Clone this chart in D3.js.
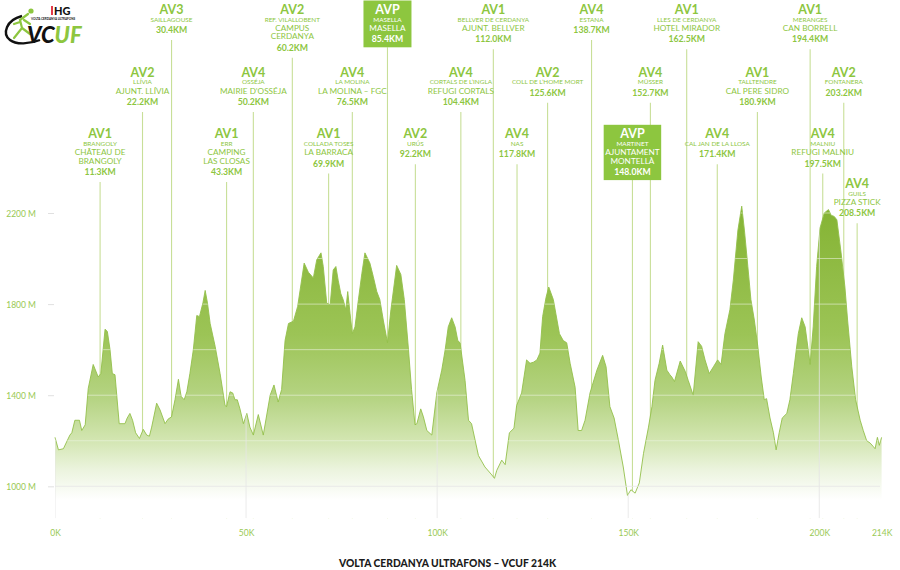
<!DOCTYPE html>
<html><head><meta charset="utf-8">
<script src="https://cdn.jsdelivr.net/npm/d3@7"></script>
<style>body{margin:0;background:#fff}svg{display:block}text{font-family:Lato,"Noto Sans",sans-serif}</style>
</head><body>
<svg id="c" width="900" height="570"></svg>
<script>
// ---- DATA ----
const profileKm = [0,0.9,2.2,2.9,3.9,4.4,5.2,6.4,7.0,7.9,8.7,10.0,11.3,12.0,13.1,13.7,14.4,15.0,15.7,16.8,18.3,18.9,19.6,20.3,21.1,22.1,23.1,24.0,24.7,25.3,26.6,27.5,28.8,29.6,30.5,31.4,32.3,33.0,33.8,34.5,35.3,36.2,37.1,37.8,38.7,39.3,39.9,40.6,41.9,43.2,44.5,44.9,45.8,46.5,47.1,47.7,48.4,49.3,50.2,51.0,51.9,53.2,54.5,56.3,57.3,58.4,59.3,60.2,61.1,62.4,63.5,65.2,66.3,67.6,68.5,69.6,70.2,71.1,72.0,72.8,73.5,74.1,74.8,75.4,76.1,76.6,77.2,77.8,78.5,79.4,80.3,81.1,82.4,83.3,84.2,85.0,85.9,87.0,87.9,89.4,90.5,91.4,92.5,93.3,94.2,94.7,95.7,96.4,97.3,98.6,99.9,101.2,102.1,102.9,103.8,104.7,105.4,106.0,107.3,108.2,109.0,110.8,112.5,114.3,115.0,115.6,116.9,117.8,118.9,120.1,120.8,122.1,123.4,124.3,125.2,126.1,126.9,127.6,128.5,129.2,130.4,132.0,133.0,133.9,134.8,136.1,136.9,137.8,138.7,140.0,141.8,143.3,144.2,145.2,146.3,147.4,148.7,149.8,150.7,151.8,152.9,154.0,155.3,156.2,157.0,158.1,159.0,160.1,160.9,161.4,162.1,163.6,164.9,165.7,167.0,168.3,169.2,170.1,171.2,172.3,173.4,174.3,175.3,176.6,177.5,178.7,179.7,180.4,181.3,182.1,183.0,183.9,184.8,185.6,186.2,187.1,188.0,188.7,189.5,190.3,191.5,192.3,193.2,194.5,195.4,196.3,197.6,198.4,199.3,200.2,201.3,202.4,203.1,203.9,204.6,205.7,206.7,207.4,208.5,209.5,210.7,211.5,212.4,213.3,214.1,214.6,215.2,215.7,216.3];
const profileEle = [1215,1160,1165,1190,1225,1235,1290,1290,1245,1270,1430,1535,1480,1495,1690,1680,1600,1495,1490,1275,1275,1300,1320,1290,1235,1210,1250,1225,1220,1260,1365,1335,1275,1295,1305,1380,1470,1395,1380,1415,1495,1600,1750,1745,1805,1860,1805,1715,1615,1495,1355,1350,1415,1410,1380,1380,1340,1275,1320,1260,1225,1315,1225,1400,1445,1370,1425,1640,1715,1725,1790,1980,1940,1915,1995,2025,1965,1805,1795,1950,1965,1905,1845,1820,1775,1855,1760,1670,1700,1820,1935,2025,1980,1920,1855,1820,1730,1630,1775,1970,1930,1820,1600,1425,1270,1275,1340,1305,1245,1225,1410,1510,1600,1700,1740,1700,1640,1630,1465,1290,1275,1135,1085,1050,1035,1070,1115,1095,1235,1255,1355,1410,1555,1540,1545,1555,1585,1745,1830,1875,1820,1670,1640,1630,1540,1435,1245,1245,1290,1410,1510,1575,1525,1350,1300,1205,1085,960,985,970,1015,1145,1260,1350,1465,1540,1620,1510,1490,1480,1460,1550,1505,1465,1400,1635,1615,1555,1495,1525,1555,1535,1670,1775,1905,2125,2230,2125,1965,1820,1730,1615,1480,1380,1385,1300,1235,1160,1235,1300,1320,1380,1495,1670,1740,1700,1535,1700,1965,2135,2200,2215,2190,2185,2170,2025,1875,1730,1525,1380,1290,1245,1200,1190,1175,1165,1215,1180,1215];

const stationCode = ["AV1","AV2","AV3","AV1","AV4","AV2","AV1","AV4","AVP","AV2","AV4","AV1","AV4","AV2","AV4","AVP","AV4","AV1","AV4","AV1","AV1","AV4","AV2","AV4"];
const stationPlace = ["BRANGOLY","LLÍVIA","SAILLAGOUSE","ERR","OSSÉJA","REF. VILALLOBENT","COLLADA TOSES","LA MOLINA","MASELLA","URÚS","CORTALS DE L’INGLA","BELLVER DE CERDANYA","NAS","COLL DE L’HOME MORT","ESTANA","MARTINET","MÜSSER","LLES DE CERDANYA","CAL JAN DE LA LLOSA","TALLTENDRE","MERANGES","MALNIU","FONTANERA","GUILS"];
const stationDetail = [["CHÂTEAU DE","BRANGOLY"],["AJUNT. LLÍVIA"],[],["CAMPING","LAS CLOSAS"],["MAIRIE D’OSSÉJA"],["CAMPUS","CERDANYA"],["LA BARRACA"],["LA MOLINA – FGC"],["MASELLA"],[],["REFUGI CORTALS"],["AJUNT. BELLVER"],[],[],[],["AJUNTAMENT","MONTELLÀ"],[],["HOTEL MIRADOR"],[],["CAL PERE SIDRO"],["CAN BORRELL"],["REFUGI MALNIU"],[],["PIZZA STICK"]];
const stationKmLabel = ["11.3KM","22.2KM","30.4KM","43.3KM","50.2KM","60.2KM","69.9KM","76.5KM","85.4KM","92.2KM","104.4KM","112.0KM","117.8KM","125.6KM","138.7KM","148.0KM","152.7KM","162.5KM","171.4KM","180.9KM","194.4KM","197.5KM","203.2KM","208.5KM"];
const stationPos = [11.8,22.9,30.5,44.9,51.9,62.1,71.6,77.8,87.0,94.3,106.2,114.7,120.9,128.9,140.4,151.1,155.8,165.3,173.3,183.8,197.6,200.9,206.4,209.9];

const xTickValues = [0,50,100,150,200,216.3];
const xTickLabels = ["0K","50K","100K","150K","200K","214K"];
const yTickValues = [1000,1400,1800,2200];
const yGridValues = [1200,1400,1600,1800,2000,2200];
const chartTitle = "VOLTA CERDANYA ULTRAFONS – VCUF 214K";

// ---- LAYOUT ----
const labelTier = [2,1,0,2,1,0,2,1,0,2,1,0,2,1,0,2,1,0,2,1,0,2,1,3];
const tierBase = [14, 76.7, 138.3, 188];
const GREEN = "#8dc63f";

const svg = d3.select("#c");
const x = d3.scaleLinear().domain([0, d3.max(profileKm)]).range([55, 881.6]);
const y = d3.scaleLinear().domain([860, 2200]).range([518.2, 213]);
const data = profileKm.map((k,i)=>({km:k, ele:profileEle[i]}));

const defs = svg.append("defs");
const grad = defs.append("linearGradient").attr("id","g").attr("gradientUnits","userSpaceOnUse")
  .attr("x1",0).attr("x2",0).attr("y1",205).attr("y2",500);
[[0,"#84b333"],[0.44,"#9cc456"],[0.66,"#b6d484"],[0.8,"#d3e6b2"],[0.9,"#ecf4df"],[1,"#ffffff"]]
  .forEach(s=>grad.append("stop").attr("offset",s[0]).attr("stop-color",s[1]));

const area = d3.area().x(d=>x(d.km)).y0(y(860)).y1(d=>y(d.ele));
defs.append("clipPath").attr("id","clip").append("path").attr("d", area(data));

const gLines = svg.append("g");
svg.append("path").attr("d", area(data)).attr("fill","url(#g)");
svg.append("path").attr("d", d3.line().x(d=>x(d.km)).y(d=>y(d.ele))(data))
  .attr("fill","none").attr("stroke","#93bf4b").attr("stroke-width",0.9);

const gGrid = svg.append("g").attr("clip-path","url(#clip)");
gGrid.selectAll(".h").data(yGridValues).enter().append("line")
  .attr("x1",x(0)).attr("x2",x(d3.max(profileKm))).attr("y1",d=>y(d)).attr("y2",d=>y(d))
  .attr("stroke","#eef4e2").attr("stroke-width",0.8).attr("opacity",0.75);
gGrid.selectAll(".v").data(xTickValues.slice(0,5)).enter().append("line")
  .attr("x1",d=>x(d)).attr("x2",d=>x(d)).attr("y1",200).attr("y2",y(860))
  .attr("stroke","#e4e4e4").attr("stroke-width",0.8);
svg.append("line").attr("x1",x(0)).attr("x2",880).attr("y1",y(1000)).attr("y2",y(1000))
  .attr("stroke","#e6e6e6").attr("stroke-width",0.8);

const yAxis = svg.append("g").attr("transform","translate(54,0)")
  .call(d3.axisLeft(y).tickValues(yTickValues).tickFormat(d=>d+" M").tickSize(6).tickPadding(12));
yAxis.select(".domain").remove();
yAxis.selectAll("line").attr("stroke","#e0e0e0");
yAxis.selectAll("text").attr("fill","#99c954").attr("font-size","8.5px").attr("font-family","Lato").attr("dy","0.36em");

const xAxis = svg.append("g").attr("transform","translate(0,518)")
  .call(d3.axisBottom(x).tickValues(xTickValues).tickFormat((d,i)=>xTickLabels[i]).tickSize(0).tickPadding(12));
xAxis.select(".domain").remove();
xAxis.selectAll("text").attr("fill","#99c954").attr("font-size","8.5px").attr("font-family","Lato");

const gLab = svg.append("g");
stationCode.forEach((code,i)=>{
  const cx = x(stationPos[i]);
  const base = tierBase[labelTier[i]];
  const isP = code === "AVP";
  const col = isP ? "#fff" : GREEN;
  const g = gLab.append("g");
  const items = [];
  items.push(g.append("text").attr("x",cx).attr("y",base).attr("text-anchor","middle")
    .attr("font-size","12.5px").attr("font-weight",700).attr("fill",col).text(code));
  let yy = base + 7.5;
  items.push(g.append("text").attr("x",cx).attr("y",yy).attr("text-anchor","middle")
    .attr("font-size","6.4px").attr("fill",col).text(stationPlace[i]));
  stationDetail[i].forEach((t,j)=>{
    yy += j===0 ? 9.3 : 8.5;
    items.push(g.append("text").attr("x",cx).attr("y",yy).attr("text-anchor","middle")
      .attr("font-size","8.2px").attr("fill",col).text(t));
  });
  yy += 11.5;
  items.push(g.append("text").attr("x",cx).attr("y",yy).attr("text-anchor","middle")
    .attr("font-size","8.7px").attr("font-weight",700).attr("fill",col).text(stationKmLabel[i]));
  let lineTop = yy + 7;
  if (isP) {
    const w = Math.max(48, d3.max(items, t=>t.node().getComputedTextLength()) + 3);
    const top = base - 13.5, bot = yy + 5;
    g.insert("rect","text").attr("x",cx-w/2).attr("y",top).attr("width",w).attr("height",bot-top).attr("fill",GREEN);
    lineTop = bot;
  }
  gLines.append("line").attr("x1",cx).attr("x2",cx).attr("y1",lineTop).attr("y2",y(860))
    .attr("stroke","#c8df98").attr("stroke-width",1.1);
});

svg.append("text").attr("x",447.5).attr("y",566.5).attr("text-anchor","middle")
  .attr("font-size","10.3px").attr("font-weight",900).attr("fill","#1c1c1c").text(chartTitle);

// logo
const lg = svg.append("g");
lg.append("path").attr("d","M22,16 C6,20 2,34 10,40 C16,45 30,44 40,40").attr("fill","none").attr("stroke","#111").attr("stroke-width",2.4);
lg.append("path").attr("d","M14,38 L22,28 L20,20 L28,14 M20,22 L14,24 M24,20 L30,24 M22,28 L30,34").attr("fill","none").attr("stroke","#8dc63f").attr("stroke-width",2.2).attr("stroke-linecap","round");
lg.append("circle").attr("cx",31).attr("cy",11).attr("r",2.6).attr("fill","#8dc63f");
lg.append("text").attr("x",54).attr("y",15).attr("font-size","11px").attr("font-weight",900).attr("fill","#111").text("HG");
lg.append("rect").attr("x",51).attr("y",6).attr("width",2).attr("height",9).attr("fill","#e23a4a");
lg.append("text").attr("x",31).attr("y",20).attr("font-size","3px").attr("font-weight",700).attr("fill","#111").text("VOLTA CERDANYA ULTRAFONS");
lg.append("text").attr("x",27).attr("y",43).attr("font-size","22px").attr("font-weight",900).attr("font-style","italic").attr("fill","#111")
  .text("VC").append("tspan").attr("fill","#8dc63f").text("UF");
</script>
</body></html>
